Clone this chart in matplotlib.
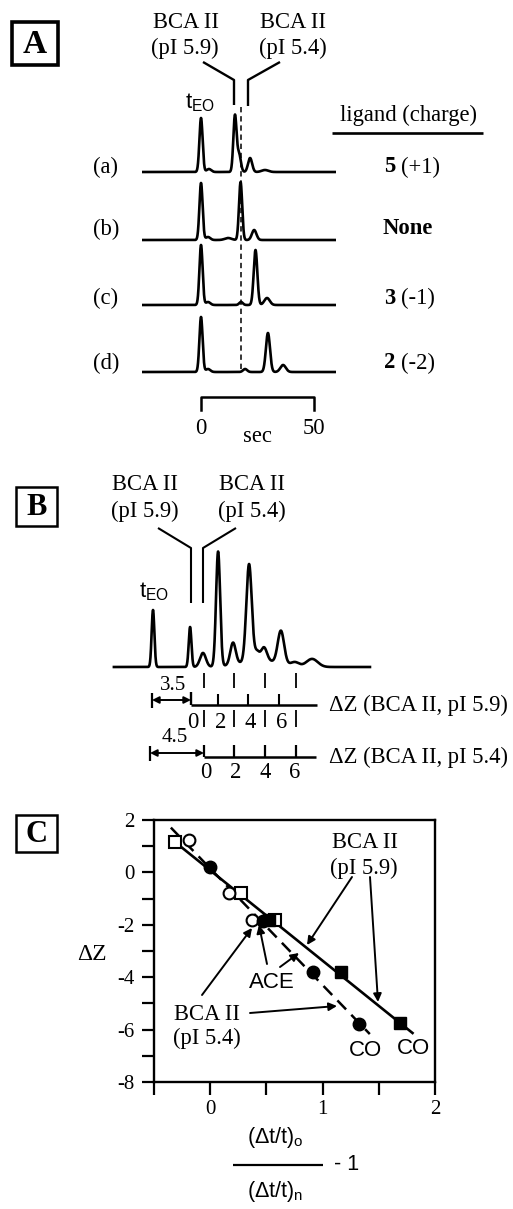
import numpy as np
import matplotlib
matplotlib.use("Agg")
import matplotlib.pyplot as plt
from matplotlib.patches import Rectangle

plt.rcParams['axes.unicode_minus'] = False
plt.rcParams['mathtext.fontset'] = 'custom'
plt.rcParams['mathtext.rm'] = 'Liberation Sans'
plt.rcParams['mathtext.it'] = 'Liberation Sans:italic'
plt.rcParams['mathtext.bf'] = 'Liberation Sans:bold'
SERIF = ['Liberation Serif', 'DejaVu Serif']
SANS = ['Liberation Sans', 'DejaVu Sans']
FS = 16.3

# ---------------- DATA ----------------
# Panel A: electropherograms (time in s relative to t_EO, heights arbitrary units)
lane_labels = ['(a)', '(b)', '(c)', '(d)']
ligand_ids = ['5', 'None', '3', '2']
ligand_charges = ['(+1)', '', '(-1)', '(-2)']
lane_baselines = [268, 200, 135, 68]
lane_peak_t = [[0, 3.5, 15.0, 16.8, 21.7, 28.3],
               [0, 3.1, 12.0, 17.5, 23.5],
               [0, 3.1, 17.7, 24.1, 29.2],
               [0, 3.1, 19.5, 29.6, 36.3]]
lane_peak_h = [[54, 3, 56, 18, 14, 2],
               [57, 3, 2, 58, 10],
               [60, 3, 3, 55, 7],
               [55, 3, 3, 39, 7]]
lane_peak_w = [[0.7, 1.0, 0.7, 0.8, 0.9, 1.5],
               [0.7, 1.0, 1.5, 0.7, 1.0],
               [0.7, 1.0, 0.8, 0.8, 1.2],
               [0.7, 1.0, 0.9, 0.9, 1.2]]
bca59_no_ligand_t = 17.5
scale_bar_sec = [0, 50]

# Panel B: charge-ladder electropherogram
b_baseline = 13
b_peak_t = [0, 16.4, 22.1, 28.8, 35.4, 42.5, 46.0, 49.1, 56.6, 62.8, 70.4, 47.0]
b_peak_h = [57, 40, 14, 115, 22, 97, 8, 13, 33, 4, 8, 7]
b_peak_w = [0.6, 0.6, 1.3, 0.9, 1.2, 1.2, 1.0, 1.3, 1.4, 1.8, 2.5, 8.0]
dz_labels = ['0', '2', '4', '6']

# Panel C: Delta Z vs (dt/t)o/(dt/t)n - 1
sq_open_x = [-0.31, 0.27, 0.575]
sq_open_y = [1.15, -0.80, -1.83]
sq_fill_x = [0.52, 1.16, 1.69]
sq_fill_y = [-1.83, -3.80, -5.75]
ci_open_x = [-0.19, 0.165, 0.37]
ci_open_y = [1.22, -0.80, -1.80]
ci_fill_x = [0.0, 0.47, 0.915, 1.325]
ci_fill_y = [0.20, -1.86, -3.80, -5.80]
fit59_x = [-0.36, 1.80]
fit59_y = [1.32, -6.13]
fit54_x = [-0.35, 1.42]
fit54_y = [1.71, -6.17]

# ---------------- FIGURE ----------------
W, H = 513.0, 1209.0
fig = plt.figure(figsize=(W / 100, H / 100), dpi=100)


def rect(x0, x1, y0, y1):
    return [x0 / W, 1 - y1 / H, (x1 - x0) / W, (y1 - y0) / H]


def trace(t, base, pt, ph, pw):
    y = np.full_like(t, float(base))
    for c, h, w in zip(pt, ph, pw):
        y += h * np.exp(-0.5 * ((t - c) / w) ** 2)
    return y


# overlay for labels / decorations (pixel coords, top-left origin)
ax_d = fig.add_axes([0, 0, 1, 1])
ax_d.set_xlim(0, W)
ax_d.set_ylim(H, 0)
ax_d.axis('off')


def txt(x, y, s, size=FS, fam=SERIF, ha='center', va='center', weight='normal'):
    ax_d.text(x, y, s, fontsize=size, family=fam, ha=ha, va=va, weight=weight)


def seg(xs, ys, lw=1.5, ls='-'):
    ax_d.plot(xs, ys, color='k', lw=lw, ls=ls, solid_capstyle='butt')


def arrow(x0, y0, x1, y1, style='-|>', lw=1.4, ms=12):
    ax_d.annotate('', xy=(x1, y1), xytext=(x0, y0),
                  arrowprops=dict(arrowstyle=style, color='k', lw=lw,
                                  mutation_scale=ms, shrinkA=0, shrinkB=0))


# panel boxes
for (x, y, w, h, lab, lw, fs) in [(12, 22, 46, 43, 'A', 2.6, 24),
                                  (16, 487, 41, 39, 'B', 1.8, 22),
                                  (16, 815, 41, 37, 'C', 1.8, 22)]:
    ax_d.add_patch(Rectangle((x, y), w, h, fill=False, lw=lw, ec='k'))
    txt(x + w / 2, y + h / 2 + 1, lab, size=fs, weight='bold')

# ---------------- PANEL A ----------------
axA = fig.add_axes(rect(142, 336, 20, 440))
axA.set_xlim(-26.1, 59.7)
axA.set_ylim(0, 420)
axA.axis('off')
tA = np.linspace(-26.1, 59.7, 3000)
for base, pt, ph, pw in zip(lane_baselines, lane_peak_t, lane_peak_h, lane_peak_w):
    axA.plot(tA, trace(tA, base, pt, ph, pw), color='k', lw=1.9)
axA.plot([bca59_no_ligand_t] * 2, [333, lane_baselines[-1]], color='k', lw=1.1,
         dashes=(3.5, 2.5))
# scale bar
axA.plot([scale_bar_sec[0], scale_bar_sec[0], scale_bar_sec[1], scale_bar_sec[1]],
         [30, 43, 43, 30], color='k', lw=1.8)
axA.text(scale_bar_sec[0], 12, str(scale_bar_sec[0]), fontsize=FS, family=SERIF,
         ha='center', va='center')
axA.text(scale_bar_sec[1], 12, str(scale_bar_sec[1]), fontsize=FS, family=SERIF,
         ha='center', va='center')
axA.text(25, 3, 'sec', fontsize=FS, family=SERIF, ha='center', va='center')

txt(186, 23, 'BCA II')
txt(185, 48, '(pI 5.9)')
txt(293, 23, 'BCA II')
txt(293, 48, '(pI 5.4)')
seg([203, 234, 234], [62, 80, 105], lw=1.7)
seg([280, 248, 248], [62, 80, 106], lw=1.7)
ax_d.text(200, 114, r'$\mathrm{t}_{\mathrm{EO}}$', fontsize=16, ha='center', va='bottom')
txt(408, 115, 'ligand (charge)')
seg([332, 483], [133, 133], lw=1.9)
lane_px = [167, 229, 298, 363]
for lab, lid, ch, yy in zip(lane_labels, ligand_ids, ligand_charges, lane_px):
    txt(106, yy, lab)
    if ch:
        txt(395, yy, lid, ha='right', weight='bold')
        txt(401, yy, ch, ha='left')
    else:
        txt(408, yy, lid, weight='bold')

# ---------------- PANEL B ----------------
axB = fig.add_axes(rect(110, 375, 530, 680))
axB.set_xlim(-19.03, 98.23)
axB.set_ylim(0, 150)
axB.axis('off')
tB = np.linspace(-17.3, 96.0, 3000)
axB.plot(tB, trace(tB, b_baseline, b_peak_t, b_peak_h, b_peak_w), color='k', lw=1.9)

txt(145, 485, 'BCA II')
txt(145, 511, '(pI 5.9)')
txt(252, 485, 'BCA II')
txt(252, 511, '(pI 5.4)')
seg([158, 191, 191], [528, 548, 603], lw=1.5)
seg([236, 203, 203], [528, 548, 603], lw=1.5)
ax_d.text(154, 603, r'$\mathrm{t}_{\mathrm{EO}}$', fontsize=16, ha='center', va='bottom')

# Delta Z scales
ax1_x = [191, 218, 248, 279]
ax2_x = [204, 234, 265, 296]
seg([191, 317], [705, 705], lw=1.8)
seg([191, 191], [692, 705], lw=1.7)
for x in ax1_x[1:]:
    seg([x, x], [694, 705], lw=1.5)
for x in ax2_x:
    seg([x, x], [673, 688], lw=1.3)
    seg([x, x], [710, 727], lw=1.3)
    seg([x, x], [745, 757], lw=1.6)
seg([204, 316], [757, 757], lw=1.8)
for x, lab in zip([193, 221, 250, 282], dz_labels):
    txt(x, 722, lab)
for x, lab in zip([206, 236, 265, 295], dz_labels):
    txt(x, 773, lab)
txt(173, 685, '3.5', size=15)
seg([152, 152], [693, 708], lw=1.6)
arrow(152, 700, 191, 700, style='<|-|>', lw=1.4, ms=10)
txt(175, 738, '4.5', size=15)
seg([150, 150], [746, 761], lw=1.6)
arrow(150, 753, 204, 753, style='<|-|>', lw=1.4, ms=10)
txt(329, 705, 'ΔZ (BCA II, pI 5.9)', ha='left')
txt(329, 757, 'ΔZ (BCA II, pI 5.4)', ha='left')

# ---------------- PANEL C ----------------
axC = fig.add_axes(rect(154, 435, 820, 1082))
axC.set_facecolor('none')
axC.set_xlim(-0.5, 2.0)
axC.set_ylim(-8, 2)
axC.plot(fit59_x, fit59_y, color='k', lw=1.9, zorder=2)
axC.plot(fit54_x, fit54_y, color='k', lw=1.8, dashes=(5.0, 3.0), zorder=2)
axC.plot(sq_open_x, sq_open_y, ls='none', marker='s', ms=8, mfc='white', mec='k',
         mew=1.5, zorder=3)
axC.plot(ci_open_x, ci_open_y, ls='none', marker='o', ms=8.5, mfc='white', mec='k',
         mew=1.5, zorder=3)
axC.plot(ci_fill_x, ci_fill_y, ls='none', marker='o', ms=9, mfc='k', mec='k', zorder=4)
axC.plot(sq_fill_x, sq_fill_y, ls='none', marker='s', ms=8, mfc='k', mec='k', zorder=4)
axC.set_xticks([-0.5, 0, 0.5, 1, 1.5, 2])
axC.set_xticklabels(['', '0', '', '1', '', '2'])
axC.set_yticks(np.arange(-8, 3, 1))
axC.set_yticklabels([str(v) if v % 2 == 0 else '' for v in range(-8, 3)])
axC.tick_params(direction='out', length=9, width=1.6, labelsize=15, pad=5)
axC.tick_params(axis='x', pad=4)
for lab in axC.get_xticklabels() + axC.get_yticklabels():
    lab.set_family(SERIF)
for side in axC.spines:
    axC.spines[side].set_linewidth(1.7)

txt(365, 843, 'BCA II')
txt(364, 868, '(pI 5.9)')
arrow(352, 877, 307, 945)
arrow(370, 877, 378, 1002)
txt(272, 982, 'ACE', fam=SANS, size=16)
arrow(280, 967, 299, 953)
arrow(267, 964, 259, 925)
txt(207, 1015, 'BCA II')
txt(207, 1038, '(pI 5.4)')
arrow(202, 995, 252, 928)
arrow(250, 1013, 337, 1006)
txt(366, 1050, 'CO', fam=SANS, size=16)
txt(413, 1048, 'CO', fam=SANS, size=16)
txt(92, 955, 'ΔZ', size=17)
ax_d.text(275, 1137, r'$(\Delta\mathrm{t/t})_{\mathrm{o}}$', fontsize=15.5, ha='center', va='center')
seg([233, 323], [1165, 1165], lw=1.6)
txt(347, 1165, '- 1', fam=SANS, size=15.5)
ax_d.text(275, 1191, r'$(\Delta\mathrm{t/t})_{\mathrm{n}}$', fontsize=15.5, ha='center', va='center')

fig.savefig('out.png', dpi=100)
